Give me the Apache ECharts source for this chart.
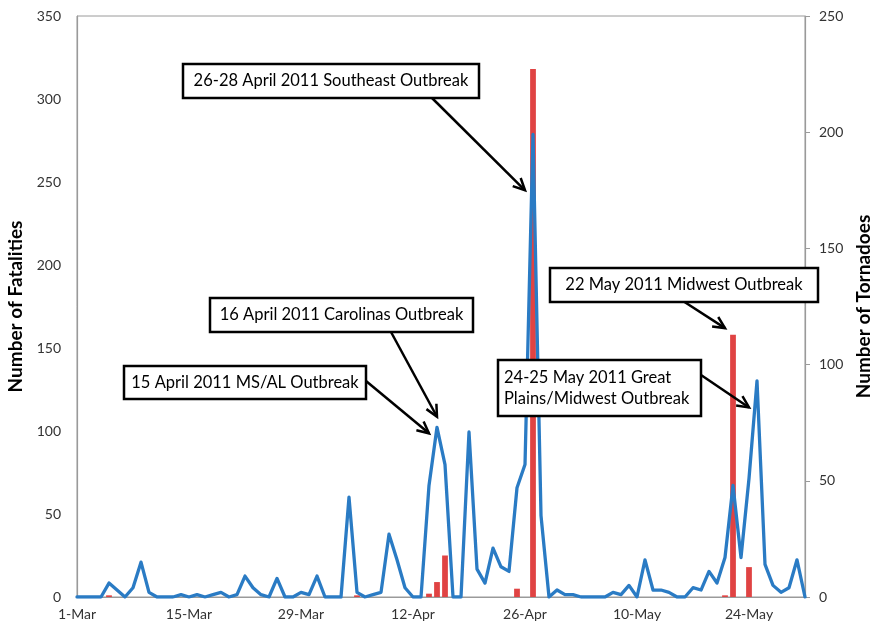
<!DOCTYPE html>
<html><head><meta charset="utf-8">
<script src="https://cdn.jsdelivr.net/npm/echarts@6/dist/echarts.min.js"></script>
<style>html,body{margin:0;padding:0;background:#fff}#c{width:870px;height:627px}</style>
</head><body><div id="c"></div>
<script>
// Daily categories, 1-Mar to 31-May 2011
const monthNames = ['Mar', 'Apr', 'May'];
const monthDays = [31, 30, 31];
const categories = [];
monthNames.forEach((m, i) => { for (let d = 1; d <= monthDays[i]; d++) categories.push(d + '-' + m); });

// Number of fatalities per day (left axis, red bars)
const fatalities = [
  0,0,0,0,1,0,0,0,0,0,
  0,0,0,0,0,0,0,0,0,0,
  0,0,0,0,0,0,0,0,0,0,
  0,0,0,0,0,1,0,0,0,0,
  0,0,0,0,2,9,25,0,0,0,
  0,0,0,0,0,5,0,318,0,0,
  0,0,0,0,0,0,0,0,0,0,
  0,0,0,0,0,0,0,0,0,0,
  0,1,158,0,18,0,0,0,0,0,
  0,0
];
// Number of tornadoes per day (right axis, blue line)
const tornadoes = [
  0,0,0,0,6,3,0,4,15,2,
  0,0,0,1,0,1,0,1,2,0,
  1,9,4,1,0,8,0,0,2,1,
  9,0,0,0,43,2,0,1,2,27,
  16,4,0,0,48,73,57,0,0,71,
  12,6,21,13,11,47,57,199,35,0,
  3,1,1,0,0,0,0,2,1,5,
  0,16,3,3,2,0,0,4,3,11,
  6,17,48,17,51,93,14,5,2,4,
  16,0
];
const leftTicks = { min: 0, max: 350, interval: 50 };
const rightTicks = { min: 0, max: 250, interval: 50 };

// Annotations: text, box [x,y,w,h], arrow start (px), arrow tip in data coords [dayIndex, fatalities]
const annotations = [
  { lines: ['26-28 April 2011 Southeast Outbreak'], box: [183, 64, 296, 34], from: [432, 98], tip: [56.07, 245] },
  { lines: ['16 April 2011 Carolinas Outbreak'], box: [210, 298, 263, 34], from: [391, 332], tip: [44.9, 108.6] },
  { lines: ['15 April 2011 MS/AL Outbreak'], box: [124, 366, 242, 33], from: [366, 381], tip: [43.64, 98.6] },
  { lines: ['22 May 2011 Midwest Outbreak'], box: [550, 268, 268, 34], from: [683, 301], tip: [80.5, 162] },
  { lines: ['24-25 May 2011 Great', 'Plains/Midwest Outbreak'], box: [498, 360, 203, 56], from: [701, 375], tip: [83.8, 114.2], left: true }
];

const FONT = 'Lato, "Open Sans", sans-serif';
const chart = echarts.init(document.getElementById('c'));
chart.setOption({
  animation: false,
  backgroundColor: '#fff',
  grid: { left: 77, right: 65, top: 16, bottom: 30, containLabel: false, outerBoundsMode: 'none',
    show: true, borderColor: '#9a9a9a', borderWidth: 1 },
  xAxis: {
    type: 'category', data: categories, boundaryGap: false,
    axisLine: { lineStyle: { color: '#9a9a9a', width: 1.2 } },
    axisTick: { show: false },
    axisLabel: { interval: 13, color: '#333', fontSize: 14, fontFamily: FONT, margin: 10 },
    splitLine: { show: false }
  },
  yAxis: [
    {
      type: 'value', min: leftTicks.min, max: leftTicks.max, interval: leftTicks.interval,
      name: 'Number of Fatalities', nameLocation: 'middle', nameGap: 47, nameRotate: 90,
      nameTextStyle: { fontSize: 19, fontWeight: 'bold', color: '#000', fontFamily: FONT },
      axisLine: { show: true, lineStyle: { color: '#9a9a9a', width: 1.2 } },
      axisTick: { show: false },
      axisLabel: { color: '#333', fontSize: 14, fontFamily: FONT, margin: 16 },
      splitLine: { show: false }
    },
    {
      type: 'value', min: rightTicks.min, max: rightTicks.max, interval: rightTicks.interval,
      name: 'Number of Tornadoes', nameLocation: 'middle', nameGap: 38, nameRotate: 90,
      nameTextStyle: { fontSize: 19, fontWeight: 'bold', color: '#000', fontFamily: FONT },
      axisLine: { show: true, lineStyle: { color: '#9a9a9a', width: 1.2 } },
      axisTick: { show: true, length: 5, lineStyle: { color: '#9a9a9a' } },
      axisLabel: { color: '#333', fontSize: 14, fontFamily: FONT, margin: 14 },
      splitLine: { show: false }
    }
  ],
  series: [
    { type: 'bar', name: 'Fatalities', data: fatalities, yAxisIndex: 0, barWidth: '72%',
      itemStyle: { color: '#e04343' }, z: 2 },
    { type: 'line', name: 'Tornadoes', data: tornadoes, yAxisIndex: 1, showSymbol: false, symbol: 'none',
      lineStyle: { color: '#2a7bc4', width: 3.3, join: 'round', cap: 'round' }, z: 3 }
  ]
});

function arrow(x1, y1, x2, y2) {
  const a = Math.atan2(y2 - y1, x2 - x1), L = 13, w = 0.45;
  const p1 = [x2 - L * Math.cos(a - w), y2 - L * Math.sin(a - w)];
  const p2 = [x2 - L * Math.cos(a + w), y2 - L * Math.sin(a + w)];
  return [
    { type: 'line', shape: { x1, y1, x2, y2 }, style: { stroke: '#000', lineWidth: 2.5 }, z: 10 },
    { type: 'polyline', shape: { points: [p1, [x2, y2], p2] }, style: { stroke: '#000', lineWidth: 2.5, fill: null }, z: 10 }
  ];
}
const g = [];
annotations.forEach(an => {
  const [bx, by, bw, bh] = an.box;
  const tip = chart.convertToPixel({ xAxisIndex: 0, yAxisIndex: 0 }, an.tip);
  g.push(...arrow(an.from[0], an.from[1], tip[0], tip[1]));
  g.push({ type: 'rect', shape: { x: bx, y: by, width: bw, height: bh },
    style: { fill: '#fff', stroke: '#000', lineWidth: 2.5 }, z: 11 });
  g.push({ type: 'text', z: 12,
    x: an.left ? bx + 6 : bx + bw / 2, y: by + bh / 2,
    style: { text: an.lines.join('\n'), fontSize: 16.5, fontFamily: FONT, fill: '#000',
      align: an.left ? 'left' : 'center', verticalAlign: 'middle', lineHeight: 21 } });
});
chart.setOption({ graphic: g });
</script>
</body></html>
